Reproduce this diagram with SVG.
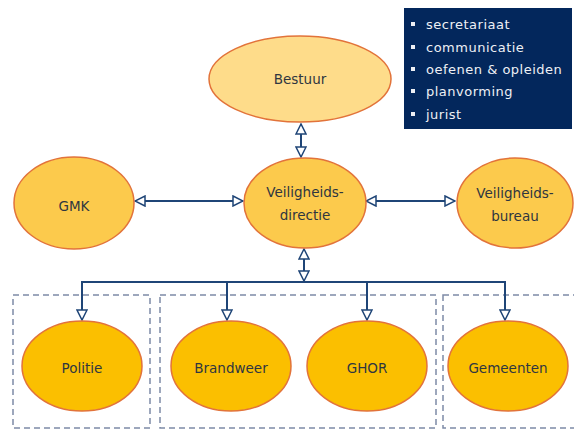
<svg xmlns="http://www.w3.org/2000/svg" width="574" height="430" viewBox="0 0 574 430">
<style>
.lbl{font-family:"DejaVu Sans",Verdana,sans-serif;font-size:13.5px;fill:#2f3640;text-anchor:middle}
.e{stroke:#e2733a;stroke-width:1.5}
.l1{fill:#fedc8a}.l2{fill:#fcca4c}.l3{fill:#fbbf00}
.con{stroke:#1f4577;stroke-width:2;fill:none}
.grp{fill:none;stroke:#7d8aa6;stroke-width:1.5;stroke-dasharray:6,4}
.box{font-family:"DejaVu Sans",Verdana,sans-serif;font-size:13px;letter-spacing:0.5px;fill:#eef0f5}
</style>
<defs>
<marker id="ah" viewBox="0 0 12 12" refX="11" refY="6" markerWidth="12" markerHeight="12" markerUnits="userSpaceOnUse" orient="auto-start-reverse">
<path d="M1,1 L11,6 L1,11 Z" fill="#fff" stroke="#1f4577" stroke-width="1.5"/>
</marker>
</defs>
<rect width="574" height="430" fill="#fff"/>
<g id="groups">
<rect class="grp" x="13" y="295" width="137" height="133"/>
<rect class="grp" x="160" y="295" width="276" height="133"/>
<rect class="grp" x="443" y="295" width="135" height="133"/>
</g>
<g id="info">
<rect x="404" y="8" width="168" height="121" fill="#03275c"/>
<g fill="#eef0f5">
<rect x="411" y="22" width="4" height="4"/>
<rect x="411" y="45" width="4" height="4"/>
<rect x="411" y="67" width="4" height="4"/>
<rect x="411" y="89" width="4" height="4"/>
<rect x="411" y="112" width="4" height="4"/>
</g>
<text class="box" x="426" y="29">secretariaat</text>
<text class="box" x="426" y="52">communicatie</text>
<text class="box" x="426" y="74">oefenen &amp; opleiden</text>
<text class="box" x="426" y="96">planvorming</text>
<text class="box" x="426" y="119">jurist</text>
</g>
<g id="connectors">
<line class="con" x1="301" y1="124" x2="301" y2="157" marker-start="url(#ah)" marker-end="url(#ah)"/>
<line class="con" x1="135" y1="201" x2="243" y2="201" marker-start="url(#ah)" marker-end="url(#ah)"/>
<line class="con" x1="366" y1="201" x2="455" y2="201" marker-start="url(#ah)" marker-end="url(#ah)"/>
<line class="con" x1="304" y1="249" x2="304" y2="281" marker-start="url(#ah)" marker-end="url(#ah)"/>
<polyline class="con" points="82,320 82,282 505,282 505,320" marker-start="url(#ah)" marker-end="url(#ah)"/>
<line class="con" x1="227" y1="282" x2="227" y2="320" marker-end="url(#ah)"/>
<line class="con" x1="367" y1="282" x2="367" y2="320" marker-end="url(#ah)"/>
</g>
<g id="bestuur"><ellipse class="e l1" cx="300" cy="79" rx="91" ry="43"/><text class="lbl" x="300" y="84">Bestuur</text></g>
<g id="veiligheidsdirectie"><ellipse class="e l2" cx="305" cy="203" rx="61" ry="45"/><text class="lbl" x="305" y="197">Veiligheids-</text><text class="lbl" x="305" y="220">directie</text></g>
<g id="gmk"><ellipse class="e l2" cx="74" cy="203" rx="60" ry="46"/><text class="lbl" x="74" y="211">GMK</text></g>
<g id="veiligheidsbureau"><ellipse class="e l2" cx="515" cy="203" rx="58" ry="45"/><text class="lbl" x="515" y="198">Veiligheids-</text><text class="lbl" x="515" y="221">bureau</text></g>
<g id="politie"><ellipse class="e l3" cx="82" cy="366" rx="60" ry="45"/><text class="lbl" x="82" y="373">Politie</text></g>
<g id="brandweer"><ellipse class="e l3" cx="231" cy="366" rx="60" ry="45"/><text class="lbl" x="231" y="373">Brandweer</text></g>
<g id="ghor"><ellipse class="e l3" cx="367" cy="366" rx="60" ry="45"/><text class="lbl" x="367" y="373">GHOR</text></g>
<g id="gemeenten"><ellipse class="e l3" cx="508" cy="366" rx="60" ry="45"/><text class="lbl" x="508" y="373">Gemeenten</text></g>
</svg>
